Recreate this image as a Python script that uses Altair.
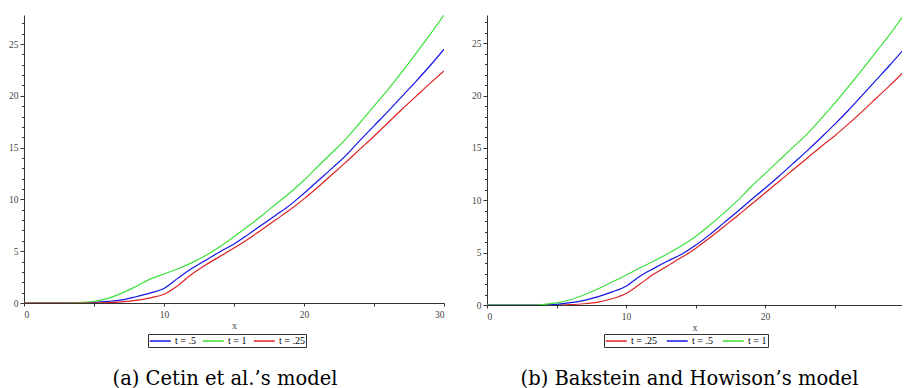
import altair as alt
import pandas as pd

# Shared grid of x values
x_vals = list(range(0, 31))

# (a) Cetin et al.'s model
cetin_names = ["t = .5", "t = 1", "t = .25"]
cetin_colors = ["#1414e6", "#3ce03c", "#e02222"]
cetin_t05 = [0, 0, 0, 0, 0, 0.05, 0.15, 0.3, 0.6, 0.95, 1.4, 2.4, 3.35, 4.15, 4.95,
             5.7, 6.6, 7.55, 8.5, 9.45, 10.6, 11.8, 13.0, 14.25, 15.7, 17.1, 18.5,
             19.95, 21.4, 22.9, 24.5]
cetin_t1 = [0, 0, 0, 0, 0.03, 0.15, 0.45, 0.95, 1.6, 2.3, 2.8, 3.3, 3.9, 4.6, 5.45,
            6.4, 7.4, 8.45, 9.55, 10.65, 11.85, 13.2, 14.5, 15.85, 17.4, 19.0, 20.6,
            22.3, 24.1, 25.9, 27.8]
cetin_t025 = [0, 0, 0, 0, 0, 0, 0.03, 0.1, 0.25, 0.5, 0.85, 1.7, 2.8, 3.7, 4.5,
              5.3, 6.15, 7.1, 8.05, 9.0, 10.05, 11.2, 12.4, 13.6, 14.85, 16.1, 17.4,
              18.7, 19.95, 21.2, 22.4]

# (b) Bakstein and Howison's model
bakstein_names = ["t = .25", "t = .5", "t = 1"]
bakstein_colors = ["#e02222", "#1414e6", "#3ce03c"]
bakstein_t025 = [0, 0, 0, 0, 0, 0, 0.04, 0.12, 0.28, 0.6, 1.1, 2.0, 2.95, 3.75, 4.55,
                 5.4, 6.4, 7.45, 8.5, 9.6, 10.7, 11.8, 12.9, 14.0, 15.1, 16.15, 17.3,
                 18.5, 19.75, 21.0, 22.3]
bakstein_t05 = [0, 0, 0, 0, 0, 0.06, 0.22, 0.45, 0.8, 1.25, 1.8, 2.75, 3.5, 4.2, 4.85,
                5.7, 6.7, 7.8, 8.9, 10.05, 11.15, 12.3, 13.5, 14.7, 15.95, 17.25, 18.6,
                20.05, 21.5, 22.95, 24.45]
bakstein_t1 = [0, 0, 0, 0, 0.05, 0.2, 0.5, 0.98, 1.55, 2.2, 2.85, 3.55, 4.2, 4.9, 5.65,
               6.55, 7.6, 8.75, 9.95, 11.3, 12.55, 13.8, 15.05, 16.3, 17.75, 19.25, 20.85,
               22.5, 24.2, 25.9, 27.75]

SERIF = "Liberation Serif"
CAPTION_FONT = "DejaVu Serif"

# Legend key: a short horizontal stroke drawn from the symbol's left edge
KEY_PATH = "M-1,0H3"


def long_table(names, series):
    rows = []
    for name, ys in zip(names, series):
        for x, y in zip(x_vals, ys):
            rows.append({"x": x, "y": y, "t": name})
    return pd.DataFrame(rows)


def panel(names, colors, series, width, height, y_max, x_max, x_ticks,
          caption, caption_dx, legend_x, legend_y, legend_gap):
    df = long_table(names, series)
    x_axis = alt.Axis(
        values=x_ticks,
        labelExpr="datum.value % 10 === 0 ? datum.label : ''",
        title="x", grid=False, tickSize=3, labelPadding=3, titlePadding=2,
        labelOverlap=False,
    )
    y_axis = alt.Axis(
        values=list(range(0, 28)),
        labelExpr="datum.value % 5 === 0 ? datum.label : ''",
        title=None, grid=False, labelOverlap=False, labelPadding=2,
        tickSize={"condition": {"test": "datum.value % 5 === 0", "value": 4}, "value": 2.5},
    )
    legend = alt.Legend(
        orient="none", legendX=legend_x, legendY=legend_y, direction="horizontal",
        columns=3, gridAlign="none", title=None, symbolType=KEY_PATH, symbolSize=110,
        symbolStrokeWidth=1.5, labelFont=SERIF, labelFontSize=10, labelColor="black",
        strokeColor="#333", fillColor="white", padding=1, columnPadding=legend_gap,
        labelOffset=14,
    )
    return alt.Chart(df).mark_line(strokeWidth=1.2, clip=True, interpolate="monotone").encode(
        x=alt.X("x:Q", scale=alt.Scale(domain=[0, x_max], nice=False, zero=False), axis=x_axis),
        y=alt.Y("y:Q", scale=alt.Scale(domain=[0, y_max], nice=False), axis=y_axis),
        color=alt.Color("t:N", scale=alt.Scale(domain=names, range=colors), legend=legend),
        order=alt.Order("x:Q"),
    ).properties(
        width=width, height=height,
        title=alt.TitleParams(caption, orient="bottom", anchor="middle", font=CAPTION_FONT,
                              fontSize=19.5, fontWeight="normal", color="black",
                              offset=22, dx=caption_dx),
    )


left = panel(cetin_names, cetin_colors, [cetin_t05, cetin_t1, cetin_t025],
             420, 288, 27.8, 30, [0, 5, 10, 15, 20, 25, 30],
             "(a) Cetin et al.’s model", -9, 124, 319, 3)
right = panel(bakstein_names, bakstein_colors, [bakstein_t025, bakstein_t05, bakstein_t1],
              415, 290, 27.7, 29.85, [0, 5, 10, 15, 20, 25],
              "(b) Bakstein and Howison’s model", -5, 117, 319, 6)

chart = alt.hconcat(left, right, spacing=26).resolve_scale(
    color="independent"
).resolve_legend(
    color="independent"
).configure(
    padding={"left": 8, "top": 15, "right": 0, "bottom": 0},
).configure_view(stroke=None).configure_axis(
    domainColor="#333", domainWidth=1, tickColor="#333", tickWidth=1,
    labelColor="#444", labelFont=SERIF, labelFontSize=9.5,
    titleFont=SERIF, titleFontSize=10, titleFontWeight="normal", titleColor="#444",
)

chart.save("out.html", embed_options={"renderer": "svg", "actions": False})
